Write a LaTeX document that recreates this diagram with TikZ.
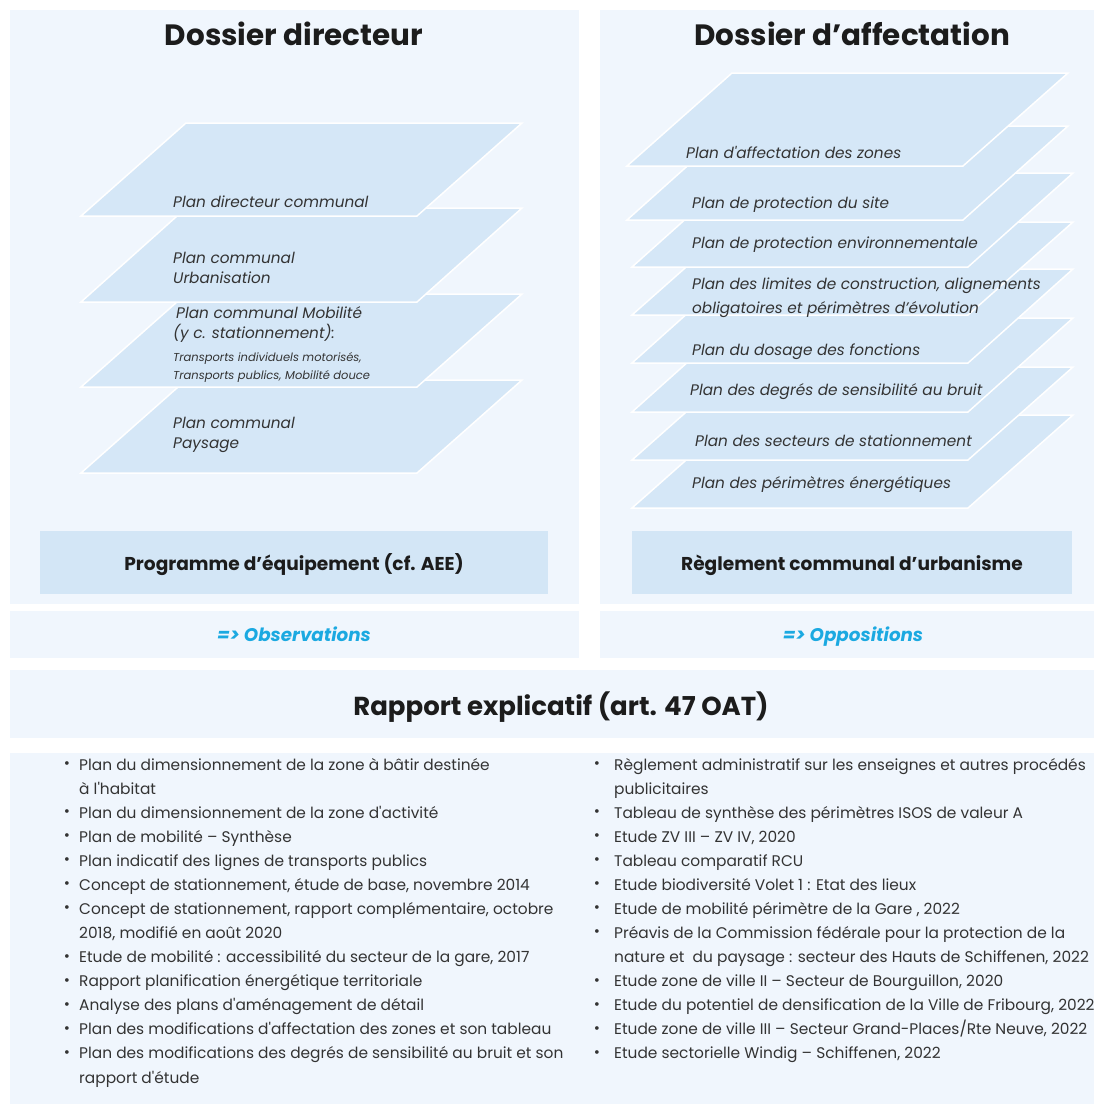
\documentclass[tikz,border=0pt]{standalone}
\usepackage{fontspec}
\setmainfont{Poppins}
\definecolor{panel}{HTML}{F0F6FD}
\definecolor{platec}{HTML}{D5E7F7}
\definecolor{boxc}{HTML}{D3E6F6}
\definecolor{txt}{HTML}{333333}
\definecolor{ttl}{HTML}{1C1C1C}
\definecolor{cyanT}{HTML}{1BA9E1}
\newcommand\plate[3]{\filldraw[platestyle] (#1,#2) -- ++(336,0) -- ++(105,-#3) -- ++(-336,0) -- cycle;}
\newcommand\lline[4]{\node[lst] (#1) at (#2,{770+24.08*#3}) {#4};}
\newcommand\lbul[3]{\node[bul] (#1) at (#2,{765+24.08*#3}) {•};}
\newcommand\ap{\textquotesingle}
\begin{document}
\begin{tikzpicture}[x=1pt,y=-1pt,
  platestyle/.style={fill=platec,draw=white,line width=1.5pt,line join=miter},
  panelbox/.style={fill=panel,draw=none},
  ttlstyle/.style={font=\fontsize{29.4}{34}\selectfont\bfseries,text=ttl,anchor=base,inner sep=0},
  itl/.style={font=\fontsize{15.3}{18}\selectfont\itshape,text=txt,anchor=base west,inner sep=0},
  itls/.style={font=\fontsize{11.5}{13}\selectfont\itshape,text=txt,anchor=base west,inner sep=0},
  boxtxt/.style={font=\fontsize{18.6}{21}\selectfont\bfseries,text=ttl,anchor=base,inner sep=0},
  obs/.style={font=\fontsize{18.3}{21}\selectfont\bfseries\itshape,text=cyanT,anchor=base,inner sep=0},
  lst/.style={font=\fontsize{15.4}{18}\selectfont,text=txt,anchor=base west,inner sep=0},
  bul/.style={font=\fontsize{15}{16}\selectfont,text=txt,anchor=center,inner sep=0}]
\useasboundingbox (0,0) rectangle (1094,1104);
\clip (0,0) rectangle (1094,1104);
\fill[white] (0,0) rectangle (1094,1104);
% panels
\fill[panelbox] (10,10) rectangle (579,604);
\fill[panelbox] (600,10) rectangle (1094,604);
\fill[panelbox] (10,611) rectangle (579,658);
\fill[panelbox] (600,611) rectangle (1094,658);
\fill[panelbox] (10,670) rectangle (1094,738);
\fill[panelbox] (10,753) rectangle (1094,1104);
% titles
\node[ttlstyle] (t1) at (294,45) {Dossier directeur};
\node[ttlstyle] (t2) at (852,45) {Dossier d’affectation};
% left plates
\plate{81}{473}{93}
\plate{81}{387}{93}
\plate{81}{302}{94}
\plate{81}{216}{93}
\node[itl] (p1) at (173,207) {Plan directeur communal};
\node[itl] (p2a) at (173,263) {Plan communal};
\node[itl] (p2b) at (173,283) {Urbanisation};
\node[itl] (p3a) at (176,318) {Plan communal Mobilité};
\node[itl] (p3b) at (173,338) {(y c. stationnement):};
\node[itls] (p3c) at (173,361) {Transports individuels motorisés,};
\node[itls] (p3d) at (173,379) {Transports publics, Mobilité douce};
\node[itl] (p4a) at (173,428) {Plan communal};
\node[itl] (p4b) at (173,448) {Paysage};
% right plates
\plate{632}{508}{93}
\plate{632}{460}{93}
\plate{632}{412}{94}
\plate{632}{363}{94}
\plate{632}{315}{93}
\plate{632}{267}{94}
\plate{627}{220}{94}
\plate{627}{166}{93}
\node[itl] (r1) at (686,158) {Plan d\ap affectation des zones};
\node[itl] (r2) at (692,208) {Plan de protection du site};
\node[itl] (r3) at (692,248) {Plan de protection environnementale};
\node[itl] (r4a) at (692,289) {Plan des limites de construction, alignements};
\node[itl] (r4b) at (692,313) {obligatoires et périmètres d’évolution};
\node[itl] (r5) at (692,355) {Plan du dosage des fonctions};
\node[itl] (r6) at (690,395) {Plan des degrés de sensibilité au bruit};
\node[itl] (r7) at (695,446) {Plan des secteurs de stationnement};
\node[itl] (r8) at (692,488) {Plan des périmètres énergétiques};
% boxes
\fill[boxc] (40,531) rectangle (548,594);
\fill[boxc] (632,531) rectangle (1072,594);
\node[boxtxt] (b1) at (294,570) {Programme d’équipement (cf. AEE)};
\node[boxtxt] (b2) at (852,570) {Règlement communal d’urbanisme};
\node[obs] (o1) at (294,641) {=> Observations};
\node[obs] (o2) at (853,641) {=> Oppositions};
\node[font=\fontsize{26}{30}\selectfont\bfseries,text=ttl,anchor=base,inner sep=0] (rap) at (561,715) {Rapport explicatif (art. 47 OAT)};
% left list
\lbul{lb1}{67}{0}\lline{l1a}{79}{0}{Plan du dimensionnement de la zone à bâtir destinée}
\lline{l1b}{79}{1}{à l\ap habitat}
\lbul{lb2}{67}{2}\lline{l2}{79}{2}{Plan du dimensionnement de la zone d\ap activité}
\lbul{lb3}{67}{3}\lline{l3}{79}{3}{Plan de mobilité – Synthèse}
\lbul{lb4}{67}{4}\lline{l4}{79}{4}{Plan indicatif des lignes de transports publics}
\lbul{lb5}{67}{5}\lline{l5}{79}{5}{Concept de stationnement, étude de base, novembre 2014}
\lbul{lb6}{67}{6}\lline{l6a}{79}{6}{Concept de stationnement, rapport complémentaire, octobre}
\lline{l6b}{79}{7}{2018, modifié en août 2020}
\lbul{lb7}{67}{8}\lline{l7}{79}{8}{Etude de mobilité : accessibilité du secteur de la gare, 2017}
\lbul{lb8}{67}{9}\lline{l8}{79}{9}{Rapport planification énergétique territoriale}
\lbul{lb9}{67}{10}\lline{l9}{79}{10}{Analyse des plans d\ap aménagement de détail}
\lbul{lb10}{67}{11}\lline{l10}{79}{11}{Plan des modifications d\ap affectation des zones et son tableau}
\lbul{lb11}{67}{12}\lline{l11a}{79}{12}{Plan des modifications des degrés de sensibilité au bruit et son}
\lline{l11b}{79}{13}{rapport d\ap étude}
% right list
\lbul{rb1}{597}{0}\lline{m1a}{614}{0}{Règlement administratif sur les enseignes et autres procédés}
\lline{m1b}{614}{1}{publicitaires}
\lbul{rb2}{597}{2}\lline{m2}{614}{2}{Tableau de synthèse des périmètres ISOS de valeur A}
\lbul{rb3}{597}{3}\lline{m3}{614}{3}{Etude ZV III – ZV IV, 2020}
\lbul{rb4}{597}{4}\lline{m4}{614}{4}{Tableau comparatif RCU}
\lbul{rb5}{597}{5}\lline{m5}{614}{5}{Etude biodiversité Volet 1 : Etat des lieux}
\lbul{rb6}{597}{6}\lline{m6}{614}{6}{Etude de mobilité périmètre de la Gare , 2022}
\lbul{rb7}{597}{7}\lline{m7a}{614}{7}{Préavis de la Commission fédérale pour la protection de la}
\lline{m7b}{614}{8}{nature et \ du paysage : secteur des Hauts de Schiffenen, 2022}
\lbul{rb8}{597}{9}\lline{m8}{614}{9}{Etude zone de ville II – Secteur de Bourguillon, 2020}
\lbul{rb9}{597}{10}\lline{m9}{614}{10}{Etude du potentiel de densification de la Ville de Fribourg, 2022}
\lbul{rb10}{597}{11}\lline{m10}{614}{11}{Etude zone de ville III – Secteur Grand-Places/Rte Neuve, 2022}
\lbul{rb11}{597}{12}\lline{m11}{614}{12}{Etude sectorielle Windig – Schiffenen, 2022}
\end{tikzpicture}
\end{document}
